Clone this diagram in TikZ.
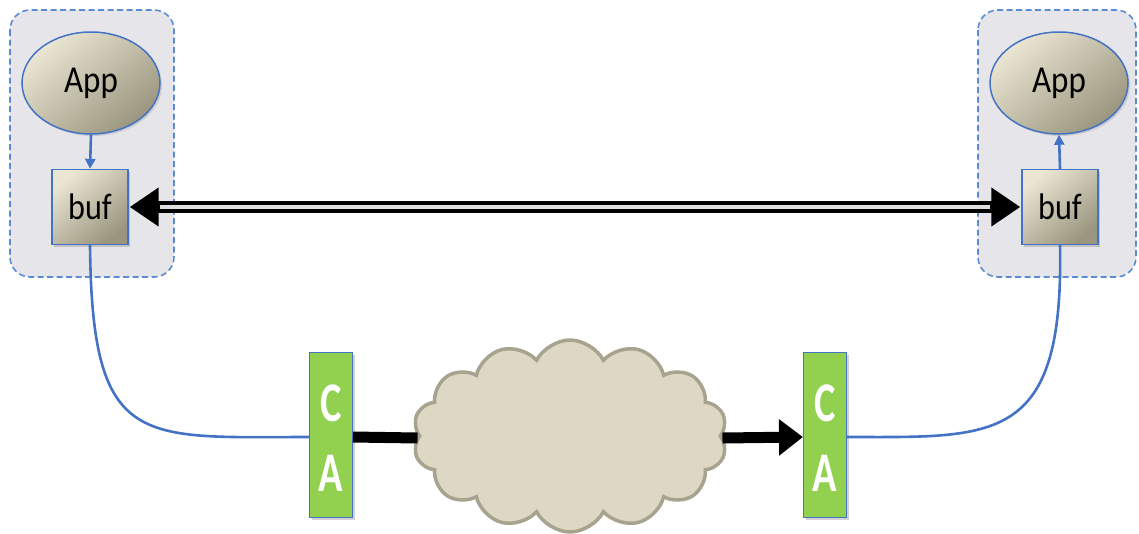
\documentclass[tikz,border=0pt]{standalone}
\usepackage{fontspec}
\setmainfont{Carlito}
\usetikzlibrary{arrows.meta,shapes.geometric,shapes.symbols,shadows}
\definecolor{lineblue}{HTML}{4472C4}
\definecolor{dashblue}{HTML}{5B8BD6}
\definecolor{groupgrey}{HTML}{E6E6EA}
\definecolor{calight}{HTML}{92D050}
\definecolor{beigelight}{HTML}{EAE6D3}
\definecolor{beigedark}{HTML}{9A957E}
\definecolor{cloudfill}{HTML}{DDD8C3}
\definecolor{cloudedge}{HTML}{A8A38E}
\tikzset{
  groupbox/.style={draw=dashblue, dash pattern=on 6pt off 3.5pt, line width=1.6pt, fill=groupgrey, rounded corners=20pt},
  appnode/.style={ellipse, draw=lineblue, line width=1.5pt, top color=beigelight, bottom color=beigedark, shading angle=40,
    minimum width=138pt, minimum height=102pt, inner sep=0pt, font=\fontsize{38}{38}\selectfont,
    drop shadow={opacity=0.25, shadow xshift=2pt, shadow yshift=-2pt}},
  bufnode/.style={rectangle, draw=lineblue, line width=1.3pt, top color=beigelight, bottom color=beigedark, shading angle=40,
    minimum width=76pt, minimum height=75pt, inner sep=0pt, font=\fontsize{37}{37}\selectfont,
    drop shadow={opacity=0.35, shadow xshift=2pt, shadow yshift=-2pt}},
  canode/.style={rectangle, draw=lineblue, line width=1pt, fill=calight, minimum width=43pt, minimum height=165pt,
    inner sep=0pt, drop shadow={opacity=0.35, shadow xshift=2pt, shadow yshift=-2pt}},
  caletter/.style={text=white, font=\bfseries\fontsize{56}{56}\selectfont, inner sep=0pt},
  cloudnode/.style={cloud, cloud puffs=14, cloud puff arc=125, draw=cloudedge, line width=3.5pt, fill=cloudfill,
    minimum width=314pt, minimum height=192pt, inner sep=0pt},
  blueline/.style={draw=lineblue, line width=2.6pt},
  smallarrow/.style={blueline, -{Triangle[length=10pt,width=10pt]}},
  thickline/.style={line width=11pt, black},
}
\newcommand{\squeezed}[1]{\raisebox{-4pt}{\scalebox{0.87}[1]{#1}}}
\begin{document}
\begin{tikzpicture}[x=1pt,y=-1pt]
\useasboundingbox (0,0) rectangle (1139,533);
% groups
\draw[groupbox] (10,10) rectangle (174,277);
\draw[groupbox] (978,10) rectangle (1136,277);
% app and buf
\node[appnode] (appL) at (91,83) {\squeezed{App}};
\node[bufnode] (bufL) at (90,207) {\squeezed{buf}};
\node[appnode] (appR) at (1059,83) {\squeezed{App}};
\node[bufnode] (bufR) at (1060,207) {\squeezed{buf}};
\draw[smallarrow] (appL.south) -- (bufL.north);
\draw[smallarrow] (bufR.north) -- (appR.south);
% double arrow
\draw[line width=12pt, black, {Triangle[length=29pt,width=37pt]}-{Triangle[length=29pt,width=37pt]}, shorten <=1pt, shorten >=1pt] (bufL.east) -- (bufR.west);
\draw[line width=3.5pt, white!75!gray, shorten <=31pt, shorten >=31pt] (bufL.east) -- (bufR.west);
% cloud
\node[cloudnode] (cloud) at (570,436) {};
% CA boxes
\node[canode] (caL) at (331,435) {};
\node[caletter] (caLc) at (caL.center) [yshift=32pt] {\scalebox{0.72}[1]{C}};
\node[caletter] (caLa) at (caL.center) [yshift=-38pt] {\scalebox{0.72}[1]{A}};
\node[canode] (caR) at (825,435) {};
\node[caletter] (caRc) at (caR.center) [yshift=32pt] {\scalebox{0.72}[1]{C}};
\node[caletter] (caRa) at (caR.center) [yshift=-38pt] {\scalebox{0.72}[1]{A}};
% thick black links
\draw[thickline] ([yshift=-2pt]caL.east) -- ([yshift=-2pt]cloud.west);
\draw[thickline, -{Triangle[length=24pt,width=35pt]}] ([yshift=-2pt]cloud.east) -- ([yshift=-2pt]caR.west);
% blue curves
\draw[blueline] (bufL.south) .. controls (92,450) and (140,437) .. ([yshift=-2pt]caL.west);
\draw[blueline] ([yshift=-2pt]caR.east) .. controls (995,437) and (1064,445) .. (bufR.south);
\end{tikzpicture}
\end{document}
